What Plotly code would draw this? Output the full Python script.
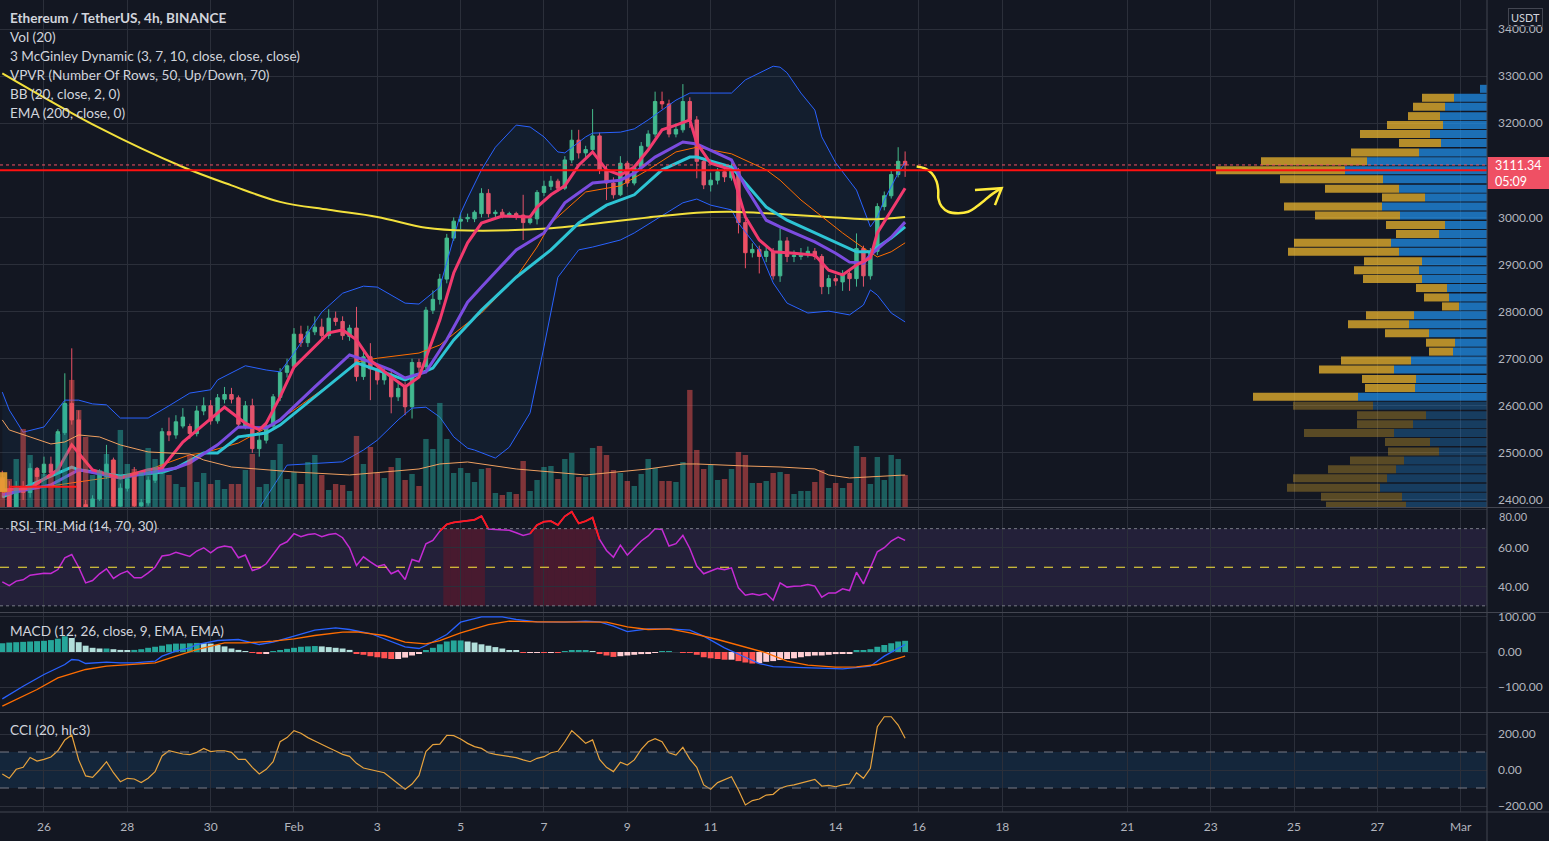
import pandas as pd
import plotly.graph_objects as go

# ETH/USDT 4h (Binance)
bar_start = "2022-01-25 00:00"

opens = [2445, 2418, 2380, 2425, 2416, 2467, 2458, 2476, 2460, 2543,
         2605, 2570, 2390, 2370, 2402, 2450, 2485, 2387, 2425, 2455,
         2388, 2394, 2442, 2462, 2545, 2538, 2557, 2556, 2541, 2589,
         2600, 2568, 2614, 2624, 2617, 2557, 2600, 2509, 2527, 2557,
         2618, 2671, 2684, 2752, 2734, 2757, 2767, 2749, 2786, 2779,
         2747, 2765, 2662, 2704, 2678, 2655, 2667, 2619, 2641, 2598,
         2692, 2683, 2803, 2826, 2869, 2956, 2992, 2997, 2997, 3008,
         3051, 3008, 3011, 3004, 3008, 3005, 2989, 2997, 3053, 3066,
         3077, 3062, 3122, 3164, 3137, 3144, 3173, 3101, 3073, 3048,
         3115, 3073, 3106, 3151, 3177, 3246, 3241, 3177, 3186, 3246,
         3207, 3119, 3069, 3079, 3097, 3084, 3101, 2989, 2925, 2932,
         2917, 2928, 2876, 2950, 2917, 2917, 2922, 2928, 2917, 2853,
         2870, 2863, 2881, 2870, 2934, 2876, 2928, 3023, 3046, 3091,
         3119]
highs = [2462, 2440, 2440, 2440, 2478, 2470, 2492, 2492, 2550, 2669,
         2722, 2590, 2400, 2410, 2465, 2517, 2490, 2435, 2452, 2470,
         2402, 2450, 2468, 2553, 2575, 2580, 2595, 2562, 2600, 2618,
         2612, 2625, 2640, 2638, 2622, 2610, 2615, 2540, 2565, 2625,
         2680, 2700, 2765, 2770, 2770, 2790, 2785, 2805, 2800, 2790,
         2772, 2810, 2722, 2733, 2690, 2680, 2675, 2650, 2650, 2700,
         2700, 2810, 2845, 2880, 2965, 3000, 3010, 3008, 3015, 3062,
         3060, 3016, 3018, 3012, 3012, 3048, 3005, 3058, 3078, 3088,
         3082, 3130, 3186, 3186, 3152, 3230, 3180, 3110, 3085, 3130,
         3120, 3112, 3160, 3185, 3267, 3267, 3250, 3200, 3283, 3255,
         3215, 3125, 3095, 3105, 3102, 3115, 3105, 2995, 2945, 2940,
         2940, 2935, 2977, 2958, 2930, 2935, 2938, 2935, 2922, 2878,
         2878, 2888, 2890, 2966, 2940, 2935, 3030, 3055, 3100, 3149,
         3140]
lows = [2405, 2370, 2370, 2400, 2405, 2440, 2450, 2452, 2455, 2538,
        2560, 2360, 2350, 2360, 2398, 2445, 2375, 2378, 2418, 2378,
        2380, 2388, 2436, 2455, 2525, 2530, 2552, 2530, 2535, 2580,
        2560, 2562, 2605, 2605, 2552, 2550, 2500, 2492, 2520, 2550,
        2610, 2660, 2678, 2725, 2725, 2750, 2740, 2742, 2770, 2740,
        2738, 2652, 2655, 2612, 2645, 2645, 2584, 2610, 2580, 2573,
        2672, 2678, 2795, 2815, 2860, 2950, 2975, 2990, 2990, 3000,
        3000, 3000, 2998, 3000, 2995, 2952, 2985, 2985, 3045, 3058,
        3055, 3058, 3115, 3125, 3125, 3138, 3092, 3037, 3040, 3045,
        3065, 3068, 3100, 3145, 3170, 3230, 3170, 3170, 3180, 3190,
        3083, 3060, 3055, 3070, 3075, 3078, 2966, 2892, 2915, 2881,
        2905, 2868, 2863, 2905, 2905, 2910, 2915, 2910, 2837, 2837,
        2855, 2844, 2844, 2853, 2853, 2868, 2920, 3015, 3040, 3085,
        3086]
closes = [2420, 2380, 2425, 2416, 2467, 2450, 2476, 2458, 2545, 2605,
          2570, 2380, 2370, 2402, 2458, 2476, 2387, 2425, 2445, 2388,
          2394, 2442, 2460, 2545, 2538, 2566, 2576, 2541, 2589, 2600,
          2568, 2617, 2624, 2614, 2561, 2600, 2509, 2527, 2557, 2619,
          2671, 2685, 2752, 2734, 2757, 2767, 2749, 2786, 2779, 2749,
          2765, 2662, 2704, 2678, 2655, 2672, 2619, 2637, 2598, 2692,
          2682, 2803, 2826, 2869, 2956, 2992, 2996, 3000, 3011, 3051,
          3008, 3011, 3005, 3008, 3004, 2989, 2997, 3053, 3066, 3077,
          3062, 3122, 3164, 3137, 3144, 3173, 3101, 3073, 3048, 3115,
          3073, 3106, 3151, 3177, 3246, 3241, 3177, 3187, 3246, 3207,
          3119, 3069, 3079, 3097, 3086, 3101, 2989, 2925, 2932, 2917,
          2928, 2876, 2950, 2917, 2919, 2922, 2928, 2917, 2853, 2870,
          2865, 2881, 2870, 2934, 2876, 2928, 3023, 3046, 3091, 3119,
          3111.34]
volume = [45, 42, 72, 117, 78, 55.5, 49.5, 49.5, 109.5, 154.5,
          190.5, 145.5, 105, 48, 55.5, 79.5, 70.5, 115.5, 64.5, 57,
          52.5, 88.5, 72, 52.5, 48, 34.5, 30, 78, 37.5, 51,
          34.5, 40.5, 27, 34.5, 34.5, 55.5, 79.5, 30, 34.5, 70.5,
          94.5, 42, 52.5, 34.5, 67.5, 78, 48, 25.5, 34.5, 33,
          24, 106.5, 64.5, 90, 51, 43.5, 60, 73.5, 40.5, 49.5,
          31.5, 102, 87, 156, 102, 51, 58.5, 51, 37.5, 57,
          58.5, 21, 18, 22.5, 19.5, 69, 24, 40.5, 60, 61.5,
          42, 72, 81, 45, 45, 88.5, 91.5, 78, 55.5, 51,
          39, 31.5, 49.5, 72, 58.5, 39, 39, 37.5, 67.5, 175.5,
          85.5, 57, 63, 40.5, 42, 57, 82.5, 78, 36, 36,
          39, 51, 52.5, 49.5, 19.5, 24, 24, 37.5, 55.5, 28.5,
          36, 28.5, 36, 91.5, 75, 34.5, 75, 40.5, 78, 72,
          48]

# indicator lines, read at the bars listed in *_k
vol_ma_k = [0, 1, 4, 7, 9, 11, 14, 17, 21, 27, 29, 33, 42, 50, 60, 63, 67, 74, 84, 93,
            98, 100, 107, 112, 117, 119, 122, 130]
vol_ma = [130.5, 115.5, 105, 94.5, 97.5, 108, 105, 93, 82.5, 79.5, 70.5, 60, 52.5, 48, 57,
          64.5, 67.5, 57, 48, 57, 64.5, 64.5, 61.5, 60, 57, 48, 43.5, 48]

ema_k = [0, 14, 26, 33, 40, 47, 54, 61, 67, 79, 93, 100, 105, 112, 120, 125, 130]
ema200 = [3306, 3190, 3107, 3068, 3033, 3016, 3001, 2978, 2972, 2977, 3000, 3010, 3012,
          3007, 3000, 2996, 3001]

mg_fast_k = [0, 4, 8, 10, 13, 17, 21, 23, 26, 29, 32, 35, 37, 38, 40, 42, 45, 47, 49, 51,
             53, 56, 58, 60, 63, 65, 67, 69, 72, 76, 77, 79, 81, 83, 85, 87, 89, 91, 93, 95,
             97, 99, 100, 102, 105, 107, 109, 111, 114, 117, 119, 121, 123, 125, 126, 128, 130]
mg_fast = [2421, 2425, 2464, 2517, 2464, 2447, 2464, 2468, 2523, 2559, 2597, 2563, 2549, 2563,
           2619, 2682, 2725, 2755, 2761, 2740, 2697, 2661, 2640, 2661, 2782, 2882, 2946, 2988,
           3003, 3001, 3022, 3048, 3067, 3111, 3139, 3101, 3090, 3107, 3143, 3186, 3196, 3207,
           3158, 3115, 3101, 3001, 2952, 2927, 2924, 2920, 2888, 2878, 2899, 2914, 2967, 3016,
           3062]
mg_mid_k = [0, 7, 11, 17, 25, 27, 31, 34, 38, 40, 45, 50, 53, 56, 58, 61, 64, 67, 69, 74,
            78, 81, 85, 89, 91, 94, 98, 100, 105, 107, 110, 112, 117, 120, 122, 124, 125, 128, 130]
mg_mid = [2411, 2432, 2464, 2447, 2468, 2479, 2517, 2555, 2553, 2570, 2640, 2708, 2693, 2676,
          2659, 2672, 2740, 2820, 2852, 2931, 2967, 3031, 3073, 3079, 3094, 3128, 3160, 3156,
          3122, 3065, 2994, 2980, 2948, 2924, 2905, 2903, 2920, 2958, 2990]
mg_slow_k = [0, 5, 10, 11, 17, 23, 25, 29, 31, 34, 38, 40, 45, 51, 54, 58, 62, 65, 69, 74,
             79, 83, 87, 91, 95, 99, 100, 105, 107, 110, 113, 117, 120, 123, 125, 126, 128, 130]
mg_slow = [2406, 2438, 2470, 2464, 2451, 2459, 2468, 2500, 2500, 2534, 2542, 2559, 2619, 2691,
           2676, 2655, 2680, 2740, 2803, 2873, 2931, 2988, 3026, 3048, 3101, 3128, 3128, 3107,
           3073, 3022, 2994, 2967, 2946, 2927, 2927, 2937, 2956, 2980]

bb_mid_k = [0, 11, 16, 21, 27, 29, 34, 38, 42, 47, 51, 54, 60, 63, 67, 69, 74, 77, 79, 84,
            89, 93, 97, 100, 105, 110, 112, 115, 118, 121, 124, 126, 128, 130]
bb_mid = [2415, 2438, 2449, 2464, 2496, 2500, 2521, 2553, 2591, 2644, 2693, 2701, 2712, 2729,
          2776, 2797, 2873, 2937, 2988, 3054, 3067, 3101, 3139, 3149, 3135, 3101, 3079, 3037,
          3001, 2967, 2935, 2916, 2927, 2946]
bb_up_k = [0, 1, 3, 6, 9, 11, 13, 15, 17, 21, 24, 27, 30, 31, 35, 38, 40, 42, 46, 49,
           52, 54, 58, 60, 63, 66, 67, 69, 71, 74, 76, 78, 80, 81, 84, 85, 89, 91, 93, 97,
           99, 105, 107, 111, 112, 113, 115, 117, 118, 120, 123, 125, 126, 127, 129, 130]
bb_up = [2629, 2591, 2544, 2555, 2612, 2612, 2604, 2602, 2574, 2574, 2600, 2627, 2634, 2655,
         2685, 2676, 2672, 2712, 2799, 2839, 2854, 2852, 2818, 2816, 2852, 3009, 3041, 3101,
         3149, 3196, 3192, 3171, 3139, 3137, 3171, 3179, 3181, 3188, 3207, 3249, 3264, 3264,
         3292, 3321, 3319, 3307, 3264, 3228, 3171, 3116, 3058, 2980, 3001, 3037, 3094, 3116]
bb_lo_k = [0, 11, 21, 30, 37, 41, 49, 52, 54, 57, 59, 61, 63, 65, 67, 68, 71, 73, 76, 78,
           80, 83, 85, 89, 91, 94, 98, 100, 102, 105, 106, 109, 111, 113, 116, 119, 122, 124,
           125, 126, 128, 130]
bb_lo = [2200, 2264, 2354, 2366, 2383, 2474, 2481, 2506, 2527, 2570, 2595, 2597, 2576, 2534,
         2510, 2506, 2489, 2512, 2585, 2725, 2873, 2931, 2937, 2952, 2967, 2994, 3031, 3039,
         3026, 3016, 2988, 2931, 2861, 2818, 2797, 2801, 2793, 2814, 2846, 2835, 2797, 2778]

rsi = [42.4, 40.5, 42.8, 43.5, 45.9, 46.4, 46.9, 46.8, 48.8, 54.9,
       56.6, 50.0, 41.9, 43.1, 46.6, 49.2, 44.2, 46.6, 48.0, 44.5,
       44.5, 47.1, 50.0, 55.8, 56.3, 57.8, 56.6, 55.6, 58.4, 60.1,
       57.5, 60.1, 61.0, 60.4, 54.9, 56.3, 48.3, 49.4, 51.8, 56.6,
       61.5, 63.2, 67.4, 65.8, 67.0, 67.4, 65.8, 67.0, 67.5, 65.3,
       60.1, 50.9, 55.4, 52.8, 50.4, 51.4, 46.6, 48.3, 43.6, 54.0,
       52.8, 62.2, 63.9, 68.7, 72.2, 73.2, 73.6, 73.9, 74.6, 76.5,
       69.8, 69.6, 69.5, 69.2, 67.9, 66.5, 67.4, 71.9, 73.6, 73.9,
       71.9, 76.4, 78.8, 72.7, 73.9, 75.7, 64.4, 58.7, 55.2, 61.5,
       56.3, 59.7, 63.6, 66.2, 69.9, 69.6, 61.0, 62.2, 66.5, 59.7,
       50.6, 46.6, 48.0, 49.4, 48.7, 49.7, 39.3, 35.5, 36.2, 35.5,
       36.4, 32.9, 41.9, 39.7, 40.2, 40.3, 41.0, 40.2, 34.5, 36.7,
       36.7, 38.8, 37.9, 47.4, 41.4, 49.7, 58.0, 60.1, 63.6, 65.6,
       63.9]

macd_k = [0, 3, 6, 9, 10, 11, 12, 14, 15, 17, 19, 22, 23, 25, 27, 28, 31, 34, 35, 37,
          39, 42, 45, 48, 50, 53, 55, 58, 60, 61, 64, 66, 69, 72, 74, 77, 81, 84, 86, 88,
          90, 93, 96, 99, 101, 104, 107, 109, 111, 115, 118, 121, 125, 127, 130]
macd = [-133.8, -97.7, -64.3, -35.7, -21.5, -23.4, -32.9, -31, -29.1, -31, -31, -26.2, -11.9,
        2.4, 11.9, 21.4, 32.8, 35.7, 30.9, 21.4, 28.1, 45.2, 62.4, 69, 64.3, 52.8, 37.6, 14.8,
        10, 18.5, 50, 85.2, 100.4, 100.4, 92.8, 86.2, 85.2, 88.1, 86.2, 73.8, 58.5, 66.2, 66.2,
        62.4, 45.2, 12, -15, -33, -42, -45, -46, -48.1, -40.5, -11.9, 21.4]
signal_k = [0, 5, 8, 12, 15, 19, 22, 25, 28, 32, 35, 39, 42, 45, 49, 51, 55, 58, 61, 63,
            66, 70, 73, 77, 81, 84, 87, 90, 93, 96, 99, 103, 106, 110, 113, 116, 120, 123,
            126, 130]
signal = [-154.8, -107.2, -73.8, -50, -40.5, -35.7, -31, -11.9, 7.1, 26.2, 26.2, 30.9, 37.6,
          47.1, 56.6, 57.6, 47.1, 28.1, 23.3, 32.8, 54.7, 78.5, 88.1, 86.2, 85.2, 86.2, 85.2,
          71.9, 64.3, 66.2, 54.7, 35.7, 18.5, -2.4, -26.2, -37.6, -43.4, -42.4, -35.7, -11.9]
macd_hist = [25, 27, 28, 29, 30, 31, 32, 34, 38, 45,
             40, 28, 18, 12, 10, 10, 8, 6, 4, 6,
             8, 12, 15, 18, 22, 24, 24, 25, 26, 25,
             24, 20, 16, 10, 6, 2, -2, -5, -3, 2,
             5, 9, 12, 15, 16, 17, 16, 14, 12, 10,
             6, -3, -8, -12, -15, -18, -20, -20, -16, -10,
             -5, 4, 12, 22, 30, 33, 33, 30, 27, 22,
             18, 14, 10, 5, 3, -2, -2, -1, -2, -1,
             -2, 1, 3, 3, 3, 2, -5, -10, -14, -12,
             -10, -8, -6, -3, -1, 1, 1, 0, -1, -2,
             -8, -15, -18, -20, -22, -22, -26, -30, -33, -32,
             -28, -26, -23, -20, -18, -15, -12, -10, -10, -8,
             -6, -5, -4, 4, 5, 8, 15, 20, 25, 30,
             32]

cci = [-22, -46, 4, 15, 70, 50, 59, 72, 107, 167,
       194, 56, -33, -41, 0, 46, -15, -65, -46, -50,
       -70, -46, -9, 78, 107, 98, 89, 85, 98, 120,
       102, 107, 107, 98, 59, 59, 15, -22, 4, 46,
       157, 180, 219, 204, 180, 161, 141, 124, 106, 87,
       76, 37, 11, 2, -7, -15, -46, -78, -107, -78,
       -30, 102, 141, 144, 193, 191, 172, 148, 130, 120,
       96, 87, 81, 76, 69, 56, 46, 65, 74, 96,
       104, 157, 219, 185, 148, 167, 59, 15, -9, 43,
       28, 56, 115, 157, 174, 157, 96, 83, 126, 61,
       15, -83, -107, -70, -52, -37, -111, -194, -170, -161,
       -139, -135, -102, -89, -83, -74, -61, -52, -89, -85,
       -93, -83, -78, -15, -46, 9, 241, 296, 296, 250,
       176]

# visible range volume profile (rows top -> bottom)
vp_price = [3273, 3254, 3235, 3215, 3196, 3177, 3158, 3138, 3119, 3100,
            3081, 3061, 3042, 3023, 3004, 2984, 2965, 2946, 2927, 2907,
            2888, 2869, 2850, 2830, 2811, 2792, 2773, 2754, 2734, 2715,
            2696, 2677, 2657, 2638, 2619, 2600, 2580, 2561, 2542, 2523,
            2503, 2484, 2465, 2446, 2426, 2407, 2388]
vp_up = [7, 33, 42, 47, 44, 57, 46, 68, 120, 142, 104, 88, 62, 105, 87, 42, 48, 96, 88, 65,
         68, 65, 40, 38, 28, 73, 78, 58, 32, 34, 76, 93, 71, 72, 129, 114, 61, 74, 93, 57,
         48, 83, 91, 100, 107, 85, 81]
vp_down = [0, 32, 32, 32, 56, 70, 42, 68, 106, 129, 103, 74, 43, 98, 85, 59, 43, 97, 111, 58,
           65, 59, 31, 25, 17, 48, 61, 44, 29, 24, 70, 75, 54, 50, 105, 80, 69, 56, 90, 45,
           51, 54, 68, 94, 93, 81, 80]
va_low = 2610

last_price = 3111.34
countdown = "05:09"

# hand drawing on the chart
arrow_t = ["2022-02-15 22:39", "2022-02-16 03:26", "2022-02-16 07:18", "2022-02-16 10:10",
           "2022-02-16 11:05", "2022-02-16 11:10", "2022-02-16 13:03", "2022-02-16 16:51",
           "2022-02-16 22:36", "2022-02-17 04:22", "2022-02-17 09:13", "2022-02-17 13:59",
           "2022-02-17 18:46", "2022-02-17 23:37"]
arrow_p = [3108, 3104, 3094, 3076, 3058, 3040, 3023, 3012, 3009, 3012, 3023, 3037, 3051, 3062]
head_t = ["2022-02-17 08:14", "2022-02-17 23:37", "2022-02-17 19:45"]
head_p = [3058, 3062, 3026]

day_ticks = ["2022-01-26", "2022-01-28", "2022-01-30", "2022-02-01", "2022-02-03", "2022-02-05",
             "2022-02-07", "2022-02-09", "2022-02-11", "2022-02-14", "2022-02-16", "2022-02-18",
             "2022-02-21", "2022-02-23", "2022-02-25", "2022-02-27", "2022-03-01"]
day_labels = ["26", "28", "30", "Feb", "3", "5", "7", "9", "11", "14", "16", "18",
              "21", "23", "25", "27", "Mar"]
price_ticks = [2400, 2500, 2600, 2700, 2800, 2900, 3000, 3100, 3200, 3300, 3400]

# ---- styling ----
BG = "#131722"
GRID = "#2b2f3a"
SEP = "#434651"
TXT = "#d1d4dc"
AXT = "#b2b5be"
UP = "#45bb8b"
DN = "#ef5064"
FONT = "Lato, Roboto, sans-serif"

W, H = 1549, 841
PLOT_W = 1487
x_range = ["2022-01-24 22:40", "2022-03-01 15:10"]


def py(px):
    return 1 - px / H


times = pd.date_range(bar_start, periods=len(closes), freq="4h")
HOUR = 3600 * 1000

fig = go.Figure()

# Bollinger band fill + bands
fig.add_trace(go.Scatter(x=times[bb_up_k], y=bb_up, mode="lines",
                         line=dict(color="#2962ff", width=1), xaxis="x", yaxis="y"))
fig.add_trace(go.Scatter(x=times[bb_lo_k], y=bb_lo, mode="lines", fill="tonexty",
                         fillcolor="rgba(33,150,243,0.06)",
                         line=dict(color="#2962ff", width=1), xaxis="x", yaxis="y"))

# volume overlay
vol_colors = ["rgba(38,166,154,0.5)" if c >= o else "rgba(239,83,80,0.5)"
              for o, c in zip(opens, closes)]
fig.add_trace(go.Bar(x=times, y=volume, marker=dict(color=vol_colors, line=dict(width=0)),
                     width=4 * HOUR * 0.78, xaxis="x", yaxis="y5"))
fig.add_trace(go.Scatter(x=times[vol_ma_k], y=vol_ma, mode="lines",
                         line=dict(color="#f0a060", width=1), xaxis="x", yaxis="y5"))

# volume profile (right side, grows leftwards)
bright = [p >= va_low for p in vp_price]
fig.add_trace(go.Bar(y=vp_price, x=vp_up, base=0, orientation="h", width=17,
                     marker=dict(color=["rgba(33,150,243,0.7)" if b else "rgba(33,150,243,0.3)"
                                        for b in bright], line=dict(width=0)),
                     xaxis="x5", yaxis="y"))
fig.add_trace(go.Bar(y=vp_price, x=vp_down, base=vp_up, orientation="h", width=17,
                     marker=dict(color=["rgba(251,192,45,0.7)" if b else "rgba(251,192,45,0.3)"
                                        for b in bright], line=dict(width=0)),
                     xaxis="x5", yaxis="y"))

fig.add_trace(go.Scatter(x=times[ema_k], y=ema200, mode="lines",
                         line=dict(color="#f2e03c", width=2, shape="spline"), xaxis="x", yaxis="y"))
fig.add_trace(go.Scatter(x=times[bb_mid_k], y=bb_mid, mode="lines",
                         line=dict(color="#ff6d00", width=1), xaxis="x", yaxis="y"))

fig.add_trace(go.Candlestick(x=times, open=opens, high=highs, low=lows, close=closes,
                             increasing=dict(line=dict(color=UP, width=1), fillcolor=UP),
                             decreasing=dict(line=dict(color=DN, width=1), fillcolor=DN),
                             whiskerwidth=0, xaxis="x", yaxis="y", hoverinfo="skip"))

for ks, vals, col in [(mg_slow_k, mg_slow, "#2ec4d4"),
                      (mg_mid_k, mg_mid, "#7b4ce0"),
                      (mg_fast_k, mg_fast, "#f23a6e")]:
    fig.add_trace(go.Scatter(x=times[ks], y=vals, mode="lines",
                             line=dict(color=col, width=3), xaxis="x", yaxis="y"))

# hand-drawn arrow
fig.add_trace(go.Scatter(x=arrow_t, y=arrow_p, mode="lines",
                         line=dict(color="#ffeb3b", width=2.5, shape="spline"),
                         xaxis="x", yaxis="y"))
fig.add_trace(go.Scatter(x=head_t, y=head_p, mode="lines",
                         line=dict(color="#ffeb3b", width=2.5), xaxis="x", yaxis="y"))

# RSI
fig.add_trace(go.Scatter(x=times, y=rsi, mode="lines", line=dict(color="#c52bd4", width=1.5),
                         xaxis="x2", yaxis="y2"))
hot = [r > 70 for r in rsi]
rsi_hot = [r if (hot[i] or (i > 0 and hot[i - 1]) or (i + 1 < len(rsi) and hot[i + 1])) else None
           for i, r in enumerate(rsi)]
fig.add_trace(go.Scatter(x=times, y=rsi_hot, mode="lines", line=dict(color="#ff1a1a", width=1.8),
                         connectgaps=False, xaxis="x2", yaxis="y2"))

# MACD
hist_colors = []
for i, h in enumerate(macd_hist):
    prev = macd_hist[i - 1] if i > 0 else h
    if h >= 0:
        hist_colors.append("#26a69a" if h >= prev else "#b2dfdb")
    else:
        hist_colors.append("#ff5252" if h < prev else "#ffcdd2")
fig.add_trace(go.Bar(x=times, y=macd_hist, marker=dict(color=hist_colors, line=dict(width=0)),
                     width=4 * HOUR * 0.85, xaxis="x3", yaxis="y3"))
fig.add_trace(go.Scatter(x=times[macd_k], y=macd, mode="lines",
                         line=dict(color="#2962ff", width=1.3), xaxis="x3", yaxis="y3"))
fig.add_trace(go.Scatter(x=times[signal_k], y=signal, mode="lines",
                         line=dict(color="#ff6d00", width=1.3), xaxis="x3", yaxis="y3"))

# CCI
fig.add_trace(go.Scatter(x=times, y=cci, mode="lines", line=dict(color="#e8a33d", width=1.2),
                         xaxis="x4", yaxis="y4"))

# ---- shapes ----
shapes = []
# RSI band and overbought shading
shapes.append(dict(type="rect", xref="x2 domain", yref="y2", x0=0, x1=1, y0=30, y1=70,
                   fillcolor="rgba(126,87,194,0.15)", line=dict(width=0), layer="below"))
for i, t in enumerate(times):
    if hot[i]:
        shapes.append(dict(type="rect", xref="x2", yref="y2",
                           x0=t - pd.Timedelta(hours=2), x1=t + pd.Timedelta(hours=2),
                           y0=30, y1=70, fillcolor="rgba(255,0,0,0.17)",
                           line=dict(width=0), layer="below"))
for lvl, dash, col in [(70, "dot", "#787b86"), (30, "dot", "#787b86"), (50, "dash", "#ffeb3b")]:
    shapes.append(dict(type="line", xref="x2 domain", yref="y2", x0=0, x1=1, y0=lvl, y1=lvl,
                       line=dict(color=col, width=1, dash=dash)))
# CCI band
shapes.append(dict(type="rect", xref="x4 domain", yref="y4", x0=0, x1=1, y0=-100, y1=100,
                   fillcolor="rgba(33,150,243,0.12)", line=dict(width=0), layer="below"))
for lvl in (100, -100):
    shapes.append(dict(type="line", xref="x4 domain", yref="y4", x0=0, x1=1, y0=lvl, y1=lvl,
                       line=dict(color="#787b86", width=1, dash="dash")))

# point of control and last price line
tot = [u + d for u, d in zip(vp_up, vp_down)]
poc = vp_price[tot.index(max(tot))]
shapes.append(dict(type="line", xref="x domain", yref="y", x0=0, x1=1, y0=poc, y1=poc,
                   line=dict(color="#ff1010", width=2)))
shapes.append(dict(type="line", xref="x domain", yref="y", x0=0, x1=1,
                   y0=last_price, y1=last_price, line=dict(color="#ef5064", width=1, dash="dot")))

# small drawings at the left edge
shapes.append(dict(type="rect", xref="x", yref="y", x0="2022-01-24 22:40", x1="2022-01-25 02:50",
                   y0=2417, y1=2459, fillcolor="rgba(230,160,50,0.9)", line=dict(width=0)))
shapes.append(dict(type="line", xref="x", yref="y", x0="2022-01-25 03:50", x1="2022-01-26 18:50",
                   y0=2428, y1=2428, line=dict(color="#ff1a1a", width=2)))

# pane separators and price scale border
for sep in (507.5, 612.5, 712.5, 812):
    shapes.append(dict(type="line", xref="paper", yref="paper", x0=0, x1=W / PLOT_W,
                       y0=py(sep), y1=py(sep), line=dict(color=SEP, width=1)))
shapes.append(dict(type="line", xref="paper", yref="paper", x0=1, x1=1, y0=0, y1=1,
                   line=dict(color=SEP, width=1)))
# last price tag
shapes.append(dict(type="rect", xref="paper", yref="paper", x0=1.0005, x1=W / PLOT_W,
                   y0=py(189), y1=py(157), fillcolor="#ef5064", line=dict(width=0)))

# ---- texts ----
ann = []
legend_rows = [("<b>Ethereum / TetherUS, 4h, BINANCE</b>", 18),
               ("Vol (20)", 37),
               ("3 McGinley Dynamic (3, 7, 10, close, close, close)", 56),
               ("VPVR (Number Of Rows, 50, Up/Down, 70)", 75),
               ("BB (20, close, 2, 0)", 94),
               ("EMA (200, close, 0)", 113),
               ("RSI_TRI_Mid (14, 70, 30)", 526),
               ("MACD (12, 26, close, 9, EMA, EMA)", 631),
               ("CCI (20, hlc3)", 730)]
for txt, ypx in legend_rows:
    ann.append(dict(text=txt, xref="paper", yref="paper", x=8 / PLOT_W, y=py(ypx),
                    xanchor="left", yanchor="middle", showarrow=False,
                    font=dict(color=TXT, size=13.6, family=FONT)))
ann.append(dict(text="USDT", xref="paper", yref="paper", x=1525 / PLOT_W, y=py(17),
                xanchor="center", yanchor="middle", showarrow=False,
                bordercolor="#434651", borderwidth=1, borderpad=2,
                font=dict(color=TXT, size=11, family=FONT)))
ann.append(dict(text=f"{last_price:.2f}", xref="paper", yref="paper", x=1493 / PLOT_W, y=py(166),
                xanchor="left", yanchor="middle", showarrow=False,
                font=dict(color="#ffffff", size=12.5, family=FONT)))
ann.append(dict(text=countdown, xref="paper", yref="paper", x=1493 / PLOT_W, y=py(181),
                xanchor="left", yanchor="middle", showarrow=False,
                font=dict(color="#ffffff", size=12.5, family=FONT)))
# top RSI label sits just under the price pane (clipped in the original)
ann.append(dict(text="80.00", xref="paper", yref="paper", x=1497 / PLOT_W, y=py(508),
                xanchor="left", yanchor="top", showarrow=False,
                font=dict(color=AXT, size=11, family=FONT)))

# ---- axes ----
tickfont = dict(color=AXT, size=12, family=FONT)
xcommon = dict(type="date", range=x_range, tickvals=day_ticks, ticktext=day_labels,
               showgrid=True, gridcolor=GRID, gridwidth=1, zeroline=False, showline=False,
               showticklabels=False, fixedrange=True)
ycommon = dict(side="right", showgrid=True, gridcolor=GRID, zeroline=False, showline=False,
               tickfont=tickfont, tickformat=".2f", ticklabelstandoff=10, fixedrange=True)

price_text = ["" if v == 3100 else f"{v:.2f}" for v in price_ticks]

fig.update_layout(
    width=W, height=H,
    margin=dict(l=0, r=W - PLOT_W, t=0, b=0, autoexpand=False),
    paper_bgcolor=BG, plot_bgcolor=BG,
    showlegend=False, hovermode=False, barmode="overlay",
    font=dict(family=FONT, color=AXT),
    xaxis=dict(xcommon, domain=[0, 1], anchor="y", rangeslider=dict(visible=False)),
    xaxis2=dict(xcommon, domain=[0, 1], anchor="y2", matches="x"),
    xaxis3=dict(xcommon, domain=[0, 1], anchor="y3", matches="x"),
    xaxis4=dict(xcommon, domain=[0, 1], anchor="y4", matches="x", showticklabels=True,
                tickfont=tickfont, ticklabelstandoff=6),
    xaxis5=dict(domain=[0, 1], anchor="y", overlaying="x", range=[PLOT_W, 0], visible=False,
                fixedrange=True),
    yaxis=dict(ycommon, domain=[py(507), 1], anchor="x", range=[2385.1, 3461.6],
               tickvals=price_ticks, ticktext=price_text),
    yaxis5=dict(domain=[py(507), 1], anchor="x", overlaying="y", range=[0, 760], visible=False,
                fixedrange=True),
    yaxis2=dict(ycommon, domain=[py(612), py(508)], anchor="x2", range=[26.8, 80.7],
                tickvals=[40, 60, 80], ticktext=["40.00", "60.00", ""]),
    yaxis3=dict(ycommon, domain=[py(712), py(613)], anchor="x3", range=[-171.4, 111.4],
                tickvals=[-100, 0, 100]),
    yaxis4=dict(ycommon, domain=[py(812), py(713)], anchor="x4", range=[-233.3, 316.7],
                tickvals=[-200, 0, 200]),
    shapes=shapes,
    annotations=ann,
)

fig.write_html("out.html", config={"displayModeBar": False},
               post_script="document.body.style.margin='0';document.body.style.overflow='hidden';")
